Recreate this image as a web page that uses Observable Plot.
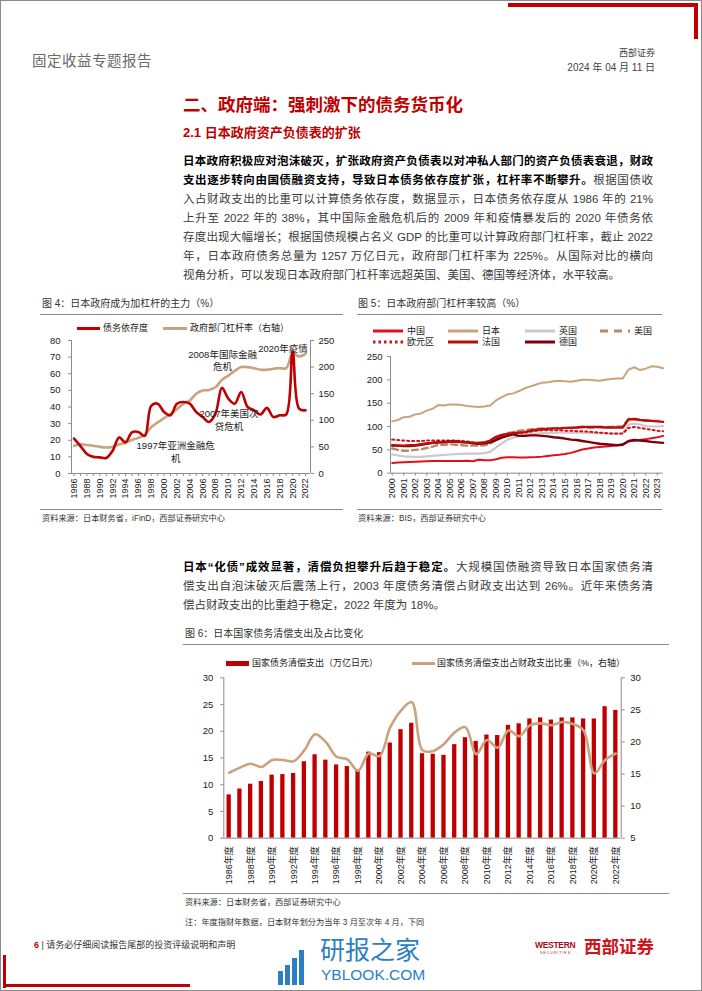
<!DOCTYPE html>
<html lang="zh-CN"><head><meta charset="utf-8">
<script src="https://cdn.jsdelivr.net/npm/d3@7"></script>
<script src="https://cdn.jsdelivr.net/npm/@observablehq/plot@0.6"></script>
<style>
html,body{margin:0;padding:0;background:#fff;}
#page{position:relative;width:702px;height:991px;overflow:hidden;background:#fff;font-family:"Liberation Sans","Noto Sans CJK SC",sans-serif;}
.abs{position:absolute;white-space:nowrap;line-height:1.2;}
.vc{transform:translateY(-50%);}
.para{position:absolute;left:183px;width:470px;font-size:11.5px;line-height:19px;height:19px;text-align:justify;text-align-last:justify;color:#3a3a3a;white-space:normal;}
.para.last{text-align-last:left;}
.para b{color:#000;font-weight:700;}
.chart{position:absolute;}
</style></head><body><div id="page"></div>
<script>
// ---------------- DATA ----------------
// Figure 4: Japan debt dependence (%) and gov. sector leverage (%, right axis)
const years4 = d3.range(1986, 2023);
const debtDependence = [21,16.5,11.7,10,9.7,9.3,13.7,21.7,18.7,24.7,25,22.6,40.7,42,37,35,42,43,42,37,34,31,36,51.5,45,42,49,40,38,35.5,39.5,34,35,35.5,73.6,39,38];
const govLeverage = [52,55,53.5,52,50,49,50,55,58,63,67,73,87,96,104,112,121,131,137,150,156,157,162,176,184,193,200,200,198,195,195,197,198,198,226,220,225];
const leftTicks4 = [0,10,20,30,40,50,60,70,80];
const rightTicks4 = [0,50,100,150,200,250];
const notes4 = [
  {x:2009.1, y:75.2, label:"2008年国际金融\n危机"},
  {x:2018.5, y:78.6, label:"2020年疫情"},
  {x:2010.1, y:39.6, label:"2007年美国次\n贷危机"},
  {x:2001.8, y:20.3, label:"1997年亚洲金融危\n机"}
];

// Figure 5: government sector leverage (%), half-year points 2000.0 ... 2023.5
const t5 = d3.range(0, 48).map(i => 2000 + i / 2);
const china   = [22,23,23.5,24,24.5,25,25.5,26,26,26,26,26,26,26.5,25.5,29,28,27.5,30,33,34,34,33.5,33.5,34,34.5,35.5,37,38.5,39.5,41,43.5,47,51,53,55,56,57,58.5,60,62,68,70,71,73,75,77,80];
const japan   = [111,114,120,121,126,128,134,138,146,145,147,147,146,144,143,142,143,145,156,163,169,171,176,182,186,190,194,195,197,198,197,196,198,200,200,199,198,200,202,203,203,222,227,221,224,229,228,225];
const uk      = [40,38,36,35.5,35,35,36,37,38,39,40,41,41.5,42,42,42,43,46,55,64,72,76,80,82,84,85,86,86,87,87,87,87,87,87,86,86,86,85,85,84,85,104,106,104,101,100,100,101];
const us      = [53,50,48,48,50,51,54,57,61,61,62,61,60,59,59,59,60,63,72,80,86,88,91,92,94,95,96,96,96,96,97,97,98,99,98,98,99,99,99,100,100,117,116,114,113,112,112,112];
const euro    = [72,71,70,69,69,69,70,70,70,70,70,70,69,68,66,65,66,68,74,79,82,84,86,87,89,91,92,92,92,92,91,91,90,90,89,88,87,86,85,85,85,97,99,97,95,93,91,90];
const france  = [59,59,59,60,60,62,64,65,66,66,67,68,66,66,65,65,66,70,78,82,84,86,87,88,91,93,94,95,96,96,97,97,98,99,99,99,99,98,98,98,98,115,116,114,113,112,111,110];
const germany = [60,59,58,58,59,61,63,65,66,67,68,68,67,66,64,63,64,66,71,76,80,83,80,80,81,81,80,79,77,76,74,72,71,69,67,65,63,62,61,60,61,69,71,70,69,67,66,65];
const ticks5Y = [0,50,100,150,200,250];
const years5 = d3.range(2000, 2024);

// Figure 6: debt service expenditure (trillion yen) and share of fiscal expenditure (%, right axis)
const years6 = d3.range(1986, 2023);
const repayment = [8.1,9.2,10.1,10.6,11.8,11.9,12.1,14.3,15.6,14.6,13.7,13.4,12.8,16.1,16.0,17.8,20.3,21.5,15.8,15.7,15.5,17.5,18.8,18.1,19.3,19.2,21.1,21.4,22.3,22.5,22.1,22.5,22.5,22.3,22.3,24.6,23.9];
const repayShare = [15.2,16.0,16.6,16.1,17.2,17.2,17.0,18.7,21.2,20.0,17.7,17.3,15.5,18.2,17.8,22.3,24.9,26.2,18.7,18.6,19.7,21.5,22.3,18.1,20.3,19.1,21.8,20.9,22.6,22.9,22.6,23.1,22.8,21.8,15.1,17.2,18.2];
const leftTicks6 = [0,5,10,15,20,25,30];
const rightTicks6 = [5,10,15,20,25,30];

// ---------------- STYLE ----------------
const FONT = '"Liberation Sans","Noto Sans CJK SC",sans-serif';
const RED = "#c00000", TAN = "#c9a27e", AX = "#8c8c8c";
const page = document.getElementById("page");

function put(html, x, y, css = "", center = true) {
  const d = document.createElement("div");
  d.className = "abs" + (center ? " vc" : "");
  d.style.cssText = `left:${x}px;top:${y}px;${css}`;
  d.innerHTML = html;
  page.appendChild(d);
  return d;
}
function box(x, y, w, h, color) {
  const d = document.createElement("div");
  d.style.cssText = `position:absolute;left:${x}px;top:${y}px;width:${w}px;height:${h}px;background:${color};`;
  page.appendChild(d);
}
function swatch(stroke, width, dash = "") {
  return `<svg width="30" height="8" style="display:block"><line x1="0" y1="4" x2="30" y2="4" stroke="${stroke}" stroke-width="${width}" ${dash ? `stroke-dasharray="${dash}"` : ""}/></svg>`;
}
function placeChart(svg, x, y) {
  const w = document.createElement("div");
  w.className = "chart";
  w.style.left = x + "px"; w.style.top = y + "px";
  w.appendChild(svg);
  page.appendChild(w);
}

// ---------------- PAGE FRAME / HEADER ----------------
const frame = document.createElement("div");
frame.style.cssText = "position:absolute;left:0;top:0;width:702px;height:991px;box-sizing:border-box;border:1px solid #8a8a8a;";
page.appendChild(frame);
box(508, 3, 190, 4, RED);
box(694, 3, 4, 36, RED);
put("固定收益专题报告", 32, 62, "font-size:14.5px;color:#6a6a6a;letter-spacing:0.5px;");
put("西部证券", 0, 53, "left:auto;right:47px;font-size:9px;color:#444;");
put("2024 年 04 月 11 日", 0, 68, "left:auto;right:47px;font-size:10px;color:#444;");

put("二、政府端：强刺激下的债务货币化", 183, 105, `font-size:17.5px;font-weight:700;color:${RED};`);
put("2.1 日本政府资产负债表的扩张", 183, 133, `font-size:13px;font-weight:700;color:${RED};`);

// paragraph 1
const p1 = [
  ["日本政府积极应对泡沫破灭，扩张政府资产负债表以对冲私人部门的资产负债表衰退，财政", ""],
  ["支出逐步转向由国债融资支持，导致日本债务依存度扩张，杠杆率不断攀升。", "根据国债收"],
  ["", "入占财政支出的比重可以计算债务依存度，数据显示，日本债务依存度从 1986 年的 21%"],
  ["", "上升至 2022 年的 38%，其中国际金融危机后的 2009 年和疫情暴发后的 2020 年债务依"],
  ["", "存度出现大幅增长；根据国债规模占名义 GDP 的比重可以计算政府部门杠杆率，截止 2022"],
  ["", "年，日本政府债务总量为 1257 万亿日元，政府部门杠杆率为 225%。从国际对比的横向"],
  ["", "视角分析，可以发现日本政府部门杠杆率远超英国、美国、德国等经济体，水平较高。"]
];
p1.forEach((l, i) => {
  const d = document.createElement("div");
  d.className = "para" + (i === p1.length - 1 ? " last" : "");
  d.style.top = (161.7 + 19 * i - 9.5) + "px";
  d.innerHTML = (l[0] ? `<b>${l[0]}</b>` : "") + l[1];
  page.appendChild(d);
});
const p2 = [
  ["日本“化债”成效显著，清偿负担攀升后趋于稳定。", "大规模国债融资导致日本国家债务清"],
  ["", "偿支出自泡沫破灭后震荡上行，2003 年度债务清偿占财政支出达到 26%。近年来债务清"],
  ["", "偿占财政支出的比重趋于稳定，2022 年度为 18%。"]
];
p2.forEach((l, i) => {
  const d = document.createElement("div");
  d.className = "para" + (i === p2.length - 1 ? " last" : "");
  d.style.top = (567.7 + 19.1 * i - 9.5) + "px";
  d.innerHTML = (l[0] ? `<b>${l[0]}</b>` : "") + l[1];
  page.appendChild(d);
});

// ---------------- FIGURE 4 ----------------
put("图 4：日本政府成为加杠杆的主力（%）", 42, 304, "font-size:10px;color:#333;");
box(40, 314, 303, 1, "#8a8a8a");
box(77, 326.5, 23, 3.5, RED);
put("债务依存度", 103, 328, "font-size:9px;color:#222;");
box(163, 326.5, 24, 3.5, TAN);
put("政府部门杠杆率（右轴）", 190, 328, "font-size:9px;color:#222;");

const k4 = 80 / 250;
const d4 = years4.map((year, i) => ({year, dep: debtDependence[i], lev: govLeverage[i] * k4}));
const chart4 = Plot.plot({
  width: 305, height: 185, marginLeft: 31, marginRight: 35, marginTop: 20, marginBottom: 32,
  style: {fontFamily: FONT, fontSize: "9.5px", color: "#1a1a1a", background: "none", overflow: "visible"},
  x: {domain: [1985.6, 2022.78], axis: null},
  y: {domain: [0, 80], axis: null},
  marks: [
    Plot.ruleX([1985.6], {stroke: AX}),
    Plot.ruleX([2022.78], {stroke: AX}),
    Plot.ruleY([0], {stroke: AX}),
    Plot.axisY(leftTicks4, {anchor: "left", tickSize: 3, tickPadding: 8, label: null, stroke: AX}),
    Plot.axisY(rightTicks4.map(v => v * k4), {anchor: "right", tickSize: 3, tickPadding: 5, label: null, stroke: AX, tickFormat: d => String(Math.round(d / k4))}),
    Plot.axisX(years4, {anchor: "bottom", tickSize: 3, tickPadding: 2, tickRotate: -90, label: null, stroke: AX, fontSize: 9, tickFormat: d => d % 2 === 0 ? String(d) : ""}),
    Plot.line(d4, {x: "year", y: "lev", stroke: TAN, strokeWidth: 2.6, curve: "catmull-rom"}),
    Plot.line(d4, {x: "year", y: "dep", stroke: RED, strokeWidth: 2.6, curve: "catmull-rom"}),
    Plot.text(notes4, {x: "x", y: "y", text: "label", lineAnchor: "top", textAnchor: "middle", lineHeight: 1.35, fontSize: 9.5, fill: "#222"})
  ]
});
placeChart(chart4, 40, 320);
box(40, 509, 303, 1, "#8a8a8a");
put("资料来源：日本财务省，iFinD，西部证券研究中心", 42, 519, "font-size:8.2px;color:#333;");

// ---------------- FIGURE 5 ----------------
put("图 5：日本政府部门杠杆率较高（%）", 358, 304, "font-size:10px;color:#333;");
box(357, 314, 305, 1, "#8a8a8a");
const series5 = [
  {name: "中国", values: china, stroke: "#e0101c", w: 2, dash: ""},
  {name: "日本", values: japan, stroke: TAN, w: 2, dash: ""},
  {name: "英国", values: uk, stroke: "#cacaca", w: 2.2, dash: ""},
  {name: "美国", values: us, stroke: "#b98a62", w: 2.4, dash: "6,4"},
  {name: "欧元区", values: euro, stroke: "#d0101a", w: 2, dash: "2,3"},
  {name: "法国", values: france, stroke: "#b80d0d", w: 2.4, dash: ""},
  {name: "德国", values: germany, stroke: "#7a0010", w: 2.4, dash: ""}
];
const legendPos5 = [[373, 330.7], [448, 330.7], [525, 330.7], [600, 330.7], [373, 342], [448, 342], [525, 342]];
series5.forEach((s, i) => {
  const [lx, ly] = legendPos5[i];
  put(swatch(s.stroke, 3, s.dash ? (s.dash === "2,3" ? "2.5,3" : "8,6") : ""), lx, ly);
  put(s.name, lx + 34, ly, "font-size:9px;color:#222;");
});
const d5 = series5.flatMap(s => s.values.map((v, i) => ({t: t5[i], v, name: s.name})));
const drawOrder5 = ["英国", "美国", "日本", "中国", "欧元区", "德国", "法国"];
const chart5 = Plot.plot({
  width: 310, height: 155, marginLeft: 35, marginRight: 2.4, marginTop: 6, marginBottom: 32.3,
  style: {fontFamily: FONT, fontSize: "9.5px", color: "#1a1a1a", background: "none", overflow: "visible"},
  x: {domain: [1999.85, 2023.5], axis: null},
  y: {domain: [0, 250], axis: null},
  marks: [
    Plot.ruleX([1999.85], {stroke: AX}),
    Plot.ruleY([0], {stroke: AX}),
    Plot.axisY(ticks5Y, {anchor: "left", tickSize: 3, tickPadding: 5, label: null, stroke: AX}),
    Plot.axisX(years5, {anchor: "bottom", tickSize: 3, tickPadding: 2, tickRotate: -90, label: null, stroke: AX, fontSize: 9, tickFormat: d => String(d)}),
    ...drawOrder5.map(n => {
      const s = series5.find(q => q.name === n);
      return Plot.line(d5.filter(d => d.name === n), {x: "t", y: "v", stroke: s.stroke, strokeWidth: s.w, strokeDasharray: s.dash || null});
    })
  ]
});
placeChart(chart5, 355, 350);
box(357, 509, 305, 1, "#8a8a8a");
put("资料来源：BIS，西部证券研究中心", 358, 519, "font-size:8.2px;color:#333;");

// ---------------- FIGURE 6 ----------------
put("图 6：日本国家债务清偿支出及占比变化", 185, 634, "font-size:10px;color:#333;");
box(183, 644, 486, 1, "#8a8a8a");
box(226, 660.5, 23, 5, RED);
put("国家债务清偿支出（万亿日元）", 252, 663, "font-size:9px;color:#222;");
box(412, 661.5, 23, 3, TAN);
put("国家债务清偿支出占财政支出比重（%，右轴）", 437, 663, "font-size:9px;color:#222;");

const toLeft6 = r => (r - 5) * 1.2;
const d6 = years6.map((year, i) => ({year, pay: repayment[i], share: toLeft6(repayShare[i])}));
const chart6 = Plot.plot({
  width: 487, height: 220, marginLeft: 40.3, marginRight: 49.3, marginTop: 7.3, marginBottom: 52.3,
  style: {fontFamily: FONT, fontSize: "9.5px", color: "#1a1a1a", background: "none", overflow: "visible"},
  x: {domain: [1985.5, 2022.5], axis: null},
  y: {domain: [0, 30], axis: null},
  marks: [
    Plot.rectY(d6, {x1: d => d.year - 0.2, x2: d => d.year + 0.2, y: "pay", fill: RED}),
    Plot.ruleX([1985.5], {stroke: AX}),
    Plot.ruleX([2022.5], {stroke: AX}),
    Plot.ruleY([0], {stroke: AX}),
    Plot.axisY(leftTicks6, {anchor: "left", tickSize: 3, tickPadding: 7.5, label: null, stroke: AX}),
    Plot.axisY(rightTicks6.map(toLeft6), {anchor: "right", tickSize: 3, tickPadding: 6, label: null, stroke: AX, tickFormat: d => String(Math.round(d / 1.2 + 5))}),
    Plot.axisX(years6.filter(y => y % 2 === 0), {anchor: "bottom", tickSize: 0, tickPadding: 8, tickRotate: -90, label: null, fontSize: 9, tickFormat: d => d + "年度"}),
    Plot.line(d6, {x: "year", y: "share", stroke: TAN, strokeWidth: 2.6, curve: "catmull-rom"})
  ]
});
placeChart(chart6, 183, 670);
box(183, 893, 486, 1, "#8a8a8a");
put("资料来源：日本财务省，西部证券研究中心", 185, 903, "font-size:8.2px;color:#333;");
put("注：年度指财年数据，日本财年划分为当年 3 月至次年 4 月，下同", 185, 922.7, "font-size:8.2px;color:#333;");

// ---------------- FOOTER ----------------
put(`<span style="color:${RED};font-weight:700">6</span> | 请务必仔细阅读报告尾部的投资评级说明和声明`, 34, 945, "font-size:9px;color:#333;");
box(3, 955, 3, 33, RED);
box(3, 984, 187, 3, RED);
// watermark
const WM = "#2b80c3";
[[278, 14], [285, 20], [292, 27], [299, 35]].forEach(([x, h]) => box(x, 985 - h, 5, h, WM));
put("研报之家", 320, 950, `font-size:25px;color:${WM};`);
put("YBLOOK.COM", 321, 975, `font-size:15.5px;color:${WM};`);
// logo
put("WESTERN", 535, 945, "font-size:8.5px;font-weight:700;color:#a0101a;letter-spacing:-0.3px;");
put("SECURITIES", 540, 953, "font-size:3.5px;color:#a0101a;letter-spacing:1px;");
put("西部证券", 584, 947, "font-size:17.5px;font-weight:700;color:#d0121b;");
</script></body></html>
